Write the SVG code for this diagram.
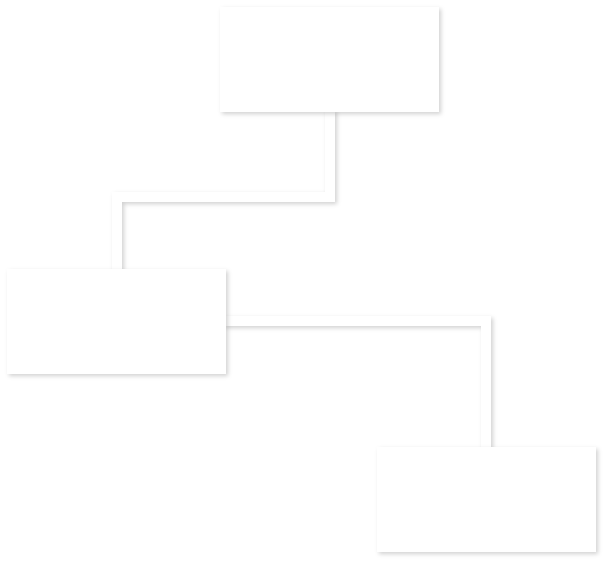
<svg xmlns="http://www.w3.org/2000/svg" width="607" height="563" viewBox="0 0 607 563">
<defs>
<filter id="sh" x="-10%" y="-10%" width="130%" height="130%">
<feDropShadow dx="2" dy="2" stdDeviation="2" flood-color="#000" flood-opacity="0.18"/>
</filter>
</defs>
<style>
.edge{fill:none;stroke:#ffffff;stroke-width:10;stroke-linejoin:miter;filter:url(#sh)}
.node{fill:#ffffff;filter:url(#sh)}
</style>
<rect width="607" height="563" fill="#ffffff"/>
<g id="connectors">
<path class="edge" d="M330,110 V197 H117 V271"/>
<path class="edge" d="M224,321 H486 V449"/>
</g>
<g id="node1"><rect class="node" x="220" y="7" width="219" height="105"/></g>
<g id="node2"><rect class="node" x="7" y="269" width="219" height="105"/></g>
<g id="node3"><rect class="node" x="377" y="447" width="219" height="105"/></g>
</svg>
